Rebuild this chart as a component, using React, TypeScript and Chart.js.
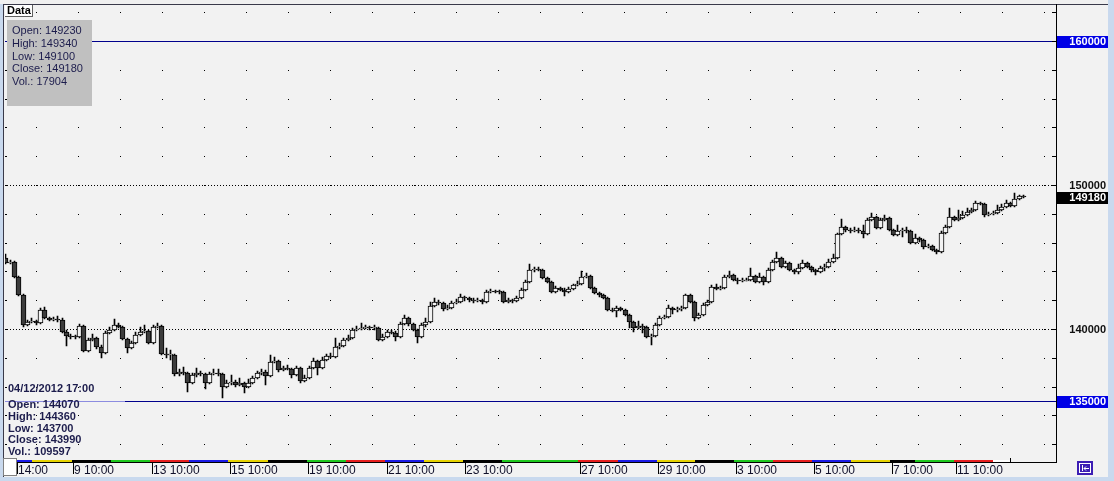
import React, { useEffect, useRef } from "react";
import { Chart, registerables } from "chart.js";

Chart.register(...registerables);

// ---------------- data ----------------
const opens = [
  144930, 144580, 144650, 143610, 142360, 140280, 140490, 140560, 140420, 141320,
  140760, 140630, 140690, 140630, 139790, 139510, 139440, 139420, 140210, 138470,
  139240, 139380, 138750, 138330, 139720, 139930, 140280, 140140, 139310, 138680,
  139030, 139580, 139790, 139860, 139030, 140140, 140180, 138260, 138190, 138220,
  136870, 137010, 136940, 136250, 136810, 136940, 136870, 136250, 136870, 136940,
  136900, 135970, 136250, 136320, 136110, 136250, 135970, 136250, 136600, 136940,
  137010, 136740, 137710, 137780, 137150, 137290, 137220, 136810, 137290, 136390,
  136600, 137290, 137780, 137290, 137850, 138130, 138060, 138750, 138820, 139240,
  139380, 139930, 140000, 140070, 140140, 140070, 140100, 139240, 139440, 139790,
  139720, 139440, 140350, 140760, 140350, 139930, 139440, 140280, 140490, 141600,
  141880, 141810, 141390, 141460, 141810, 141880, 142220, 142150, 142010, 141940,
  142010, 141880, 142570, 142640, 142600, 142570, 141880, 142010, 141940, 142150,
  142710, 143260, 144100, 144170, 144100, 143540, 143260, 142570, 142850, 142710,
  142570, 142780, 143060, 143130, 143610, 143680, 142850, 142500, 142360, 142150,
  141320, 141250, 141460, 141320, 140970, 140490, 140070, 140210, 140140, 139440,
  139510, 140280, 140760, 140800, 141460, 141320, 141390, 141460, 142360, 141880,
  140760, 140970, 141670, 141880, 142920, 142780, 142820, 143610, 143750, 143400,
  143330, 143360, 143400, 143680, 143260, 143610, 143260, 144100, 144650, 144930,
  144310, 144580, 144100, 143960, 144240, 144580, 144310, 144100, 143960, 144240,
  144310, 144650, 144930, 146600, 147080, 146870, 146800, 146870, 146800, 146600,
  147570, 147780, 147010, 147570, 147710, 146870, 146530, 146800, 146870, 146800,
  145970, 146320, 146180, 145690, 145760, 145490, 145350, 146670, 147080, 147780,
  147570, 147710, 147920, 148120, 148260, 148750, 148680, 147920, 147990, 148030,
  148260, 148470, 148750, 148540, 149030, 149230,
];

const highs = [
  145210, 144790, 144720, 143680, 142430, 140630, 140760, 140630, 141460, 141530,
  140830, 140830, 140900, 140760, 139930, 139650, 139580, 140350, 140280, 139380,
  139650, 139450, 138890, 139860, 140140, 140700, 140420, 140210, 139380, 139170,
  139790, 140140, 140280, 139930, 140280, 140420, 140250, 138680, 138540, 138290,
  137220, 137360, 137010, 136940, 137290, 137080, 136940, 137010, 137220, 137220,
  136970, 136460, 136810, 136460, 136600, 136320, 136530, 136740, 137080, 137220,
  137150, 138190, 138060, 137850, 137430, 137500, 137290, 137430, 137360, 136810,
  137430, 137990, 137850, 138060, 138260, 138330, 139380, 139030, 139380, 139580,
  140070, 140210, 140420, 140280, 140210, 140280, 140170, 139650, 139930, 139930,
  139860, 140490, 140970, 140830, 140420, 140000, 140420, 140760, 141880, 142150,
  142010, 141880, 141670, 141950, 142080, 142430, 142290, 142220, 142150, 142150,
  142080, 142710, 142780, 142710, 142710, 142640, 142150, 142080, 142290, 142850,
  143400, 144510, 144310, 144310, 144170, 143610, 143330, 142990, 142920, 142850,
  142920, 143130, 143330, 144030, 143890, 143750, 142920, 142570, 142430, 142220,
  141460, 141600, 141530, 141390, 141040, 140560, 140560, 140350, 140210, 139650,
  140420, 140900, 140970, 141670, 141530, 141530, 141600, 142430, 142430, 141950,
  141110, 141810, 142010, 143060, 143130, 142990, 143750, 144030, 143820, 143540,
  143540, 143540, 144240, 143750, 143890, 143680, 144240, 144790, 145350, 145000,
  144720, 144650, 144170, 144510, 144790, 144650, 144380, 144170, 144380, 144510,
  144860, 145210, 146670, 147640, 147150, 147010, 147080, 147010, 147220, 147710,
  148060, 147850, 147710, 147920, 147780, 146940, 147220, 147010, 147080, 146870,
  146600, 146390, 146250, 145900, 145830, 145560, 146800, 147220, 148400, 147850,
  148260, 148190, 148400, 148400, 148890, 148820, 148750, 148120, 148190, 148610,
  148680, 148960, 148820, 149450, 149310, 149340,
];

const lows = [
  144510, 144510, 143540, 142290, 140140, 140210, 140420, 140280, 140350, 140690,
  140560, 140560, 140490, 139720, 138820, 139310, 139310, 139380, 138400, 138400,
  139170, 138610, 137990, 138260, 139650, 139860, 140070, 139240, 138330, 138610,
  138960, 139510, 139720, 138960, 138960, 140070, 138190, 137990, 137850, 136740,
  136740, 136810, 135630, 136180, 136670, 136740, 135830, 136180, 136810, 136740,
  135210, 135900, 136110, 135970, 136040, 135560, 135900, 136180, 136530, 136810,
  136110, 136670, 137640, 137010, 137080, 137150, 136600, 136740, 136250, 136320,
  136530, 137220, 136810, 137220, 137780, 137990, 137990, 138610, 138750, 139170,
  139310, 139860, 139930, 140000, 139930, 139930, 139170, 139170, 139380, 139650,
  139170, 139380, 140280, 140210, 139860, 139030, 139380, 140140, 140420, 141530,
  141670, 141250, 141320, 141390, 141740, 141810, 141950, 141880, 141810, 141880,
  141740, 141810, 142500, 142500, 142430, 141810, 141810, 141810, 141880, 142080,
  142640, 143190, 143960, 144030, 143470, 143190, 142500, 142500, 142640, 142290,
  142500, 142710, 142990, 143060, 143540, 142780, 142430, 142220, 142080, 141250,
  141180, 140830, 141250, 140900, 140070, 139790, 140000, 139720, 139380, 138890,
  139440, 140210, 140690, 140760, 141040, 141180, 141250, 141390, 141810, 140560,
  140690, 140900, 141600, 141810, 142710, 142710, 142780, 143540, 143330, 143130,
  143260, 143330, 143330, 143190, 143190, 143060, 143190, 144030, 144580, 144240,
  144240, 144030, 143820, 143820, 144170, 144240, 143960, 143750, 143890, 144030,
  144240, 144580, 144860, 146530, 146730, 146670, 146730, 146670, 146320, 146530,
  147500, 146940, 146940, 147500, 146800, 146460, 146460, 146390, 146670, 145900,
  145900, 146040, 145560, 145630, 145420, 145210, 145280, 146600, 147010, 147500,
  147500, 147640, 147850, 148060, 148190, 148610, 147780, 147850, 147920, 147990,
  148190, 148400, 148470, 148470, 148960, 149100,
];

const closes = [
  144580, 144650, 143610, 142360, 140280, 140490, 140560, 140420, 141320, 140760,
  140630, 140690, 140630, 139790, 139510, 139440, 139420, 140210, 138470, 139240,
  139380, 138750, 138330, 139720, 139930, 140280, 140140, 139310, 138680, 139030,
  139580, 139790, 139860, 139030, 140140, 140180, 138260, 138190, 138220, 136870,
  137010, 136940, 136250, 136810, 136940, 136870, 136250, 136870, 136940, 136900,
  135970, 136250, 136320, 136110, 136250, 135970, 136250, 136600, 136940, 137010,
  136740, 137710, 137780, 137150, 137290, 137220, 136810, 137290, 136390, 136600,
  137290, 137780, 137290, 137850, 138130, 138060, 138750, 138820, 139240, 139380,
  139930, 140000, 140070, 140140, 140070, 140100, 139240, 139440, 139790, 139720,
  139440, 140350, 140760, 140350, 139930, 139440, 140280, 140490, 141600, 141880,
  141810, 141390, 141460, 141810, 141880, 142220, 142150, 142010, 141940, 142010,
  141880, 142570, 142640, 142600, 142570, 141880, 142010, 141940, 142150, 142710,
  143260, 144100, 144170, 144100, 143540, 143260, 142570, 142850, 142710, 142570,
  142780, 143060, 143130, 143610, 143680, 142850, 142500, 142360, 142150, 141320,
  141250, 141460, 141320, 140970, 140490, 140070, 140210, 140140, 139440, 139510,
  140280, 140760, 140800, 141460, 141320, 141390, 141460, 142360, 141880, 140760,
  140970, 141670, 141880, 142920, 142780, 142820, 143610, 143750, 143400, 143330,
  143360, 143400, 143680, 143260, 143610, 143260, 144100, 144650, 144930, 144310,
  144580, 144100, 143960, 144240, 144580, 144310, 144100, 143960, 144240, 144310,
  144650, 144930, 146600, 147080, 146870, 146800, 146870, 146800, 146600, 147570,
  147780, 147010, 147570, 147710, 146870, 146530, 146800, 146870, 146800, 145970,
  146320, 146180, 145690, 145760, 145490, 145350, 146670, 147080, 147780, 147570,
  147710, 147920, 148120, 148260, 148750, 148680, 147920, 147990, 148030, 148260,
  148470, 148750, 148540, 149030, 149230, 149180,
];

// time axis: labels and the candle index where each one sits
const timeLabels = ["14:00", "9 10:00", "13 10:00", "15 10:00", "19 10:00", "21 10:00", "23 10:00", "27 10:00", "29 10:00", "3 10:00", "5 10:00", "7 10:00", "11 10:00"];
const timeLabelIndex = [2.5, 15.5, 33.7, 51.7, 69.7, 88, 106, 132.6, 150.6, 168.6, 186.6, 204.6, 219.4];

// day strip under the chart (boundaries in candle index units)
const dayBounds = [2.5, 6, 15.3, 24.3, 33.3, 42.3, 51.3, 60.5, 69.5, 78.5, 87.5, 96.5, 105.5, 114.5, 132.1, 141.3, 150.3, 159.1, 168.1, 177.1, 186.1, 195.2, 204.2, 209.9, 218.9, 227.9, 231.9];
const dayColors = ["#1a1ae6", "#e6d200", "#000000", "#1ec81e", "#e61e1e", "#1a1ae6", "#e6d200", "#000000", "#1ec81e", "#e61e1e", "#1a1ae6", "#e6d200", "#000000", "#1ec81e", "#e61e1e", "#1a1ae6", "#e6d200", "#000000", "#1ec81e", "#e61e1e", "#1a1ae6", "#e6d200", "#000000", "#1ec81e", "#e61e1e", "#ffffff"];

// price levels
const boxedLevels = [160000, 135000];
const dottedLevels = [150000, 140000];
const plainLabelLevels = [150000, 140000];

const infoTopLines = ["Open: 149230", "High: 149340", "Low: 149100", "Close: 149180", "Vol.: 17904"];
const infoBottomTitle = "04/12/2012 17:00";
const infoBottomLines = ["Open: 144070", "High: 144360", "Low: 143700", "Close: 143990", "Vol.: 109597"];

// ---------------- layout ----------------
const W = 1114;
const H = 481;
const BG = "#f2f2f2";
const NAVY = "#1c1c4c";
const FONT = '"Liberation Sans", Arial, sans-serif';
const X_MIN = -0.23;
const X_MAX = 242.5;
const Y_MIN = 131000;
const Y_MAX = 162500;
const GRID_COL_START = 6.93;
const GRID_COL_STEP = 9.7;

const overlayPlugin = {
  id: "overlay",
  beforeDraw(chart: any) {
    const ctx = chart.ctx;
    ctx.save();
    ctx.fillStyle = "#c9d9ee";
    ctx.fillRect(0, 0, W, H);
    ctx.fillStyle = "#f0f0f0";
    ctx.fillRect(0, 0, 1108, 4);
    ctx.fillStyle = BG;
    ctx.fillRect(3, 4, 1105, 473);
    ctx.fillStyle = "#3a3a4a";
    ctx.fillRect(3, 4, 1105, 1);
    ctx.fillRect(3, 4, 1, 473);
    ctx.restore();
  },
  beforeDatasetsDraw(chart: any) {
    const { ctx, chartArea: a, scales } = chart;
    const xs = scales.x;
    const ys = scales.y;

    // snap candle elements to whole pixels so they render crisp
    const bodyMeta = chart.getDatasetMeta(0);
    const wickMeta = chart.getDatasetMeta(1);
    bodyMeta.data.forEach((el: any, i: number) => {
      el.x = Math.floor(el.x) + 0.5;
      el.y = Math.round(el.y);
      el.base = Math.round(el.base);
      const w = wickMeta.data[i];
      if (w) {
        w.x = el.x;
        w.y = Math.round(w.y);
        w.base = Math.round(w.base);
      }
    });

    ctx.save();
    ctx.fillStyle = "#000";
    for (let v = 132000; v <= 162000; v += 2000) {
      const py = Math.round(ys.getPixelForValue(v));
      ctx.fillRect(a.left, py, 2, 1);
      for (let k = 0; k < 200; k++) {
        const px = Math.round(xs.getPixelForValue(GRID_COL_START + k * GRID_COL_STEP));
        if (px > a.right - 4) break;
        ctx.fillRect(px, py, 1, 1);
      }
    }
    for (const v of dottedLevels) {
      const py = Math.round(ys.getPixelForValue(v));
      for (let px = Math.round(a.left) + 2; px < a.right; px += 3) ctx.fillRect(px, py, 1, 1);
    }
    for (const v of boxedLevels) {
      const py = Math.round(ys.getPixelForValue(v));
      ctx.fillStyle = "#00008c";
      ctx.fillRect(a.left, py, a.right - a.left, 1);
    }
    ctx.restore();
  },
  afterDraw(chart: any) {
    const { ctx, chartArea: a, scales } = chart;
    const xs = scales.x;
    const ys = scales.y;
    ctx.save();
    ctx.textBaseline = "middle";

    const py135 = Math.round(ys.getPixelForValue(135000));
    ctx.fillStyle = "#8c8ce0";
    ctx.fillRect(a.left, py135, 120, 1);

    // right axis
    ctx.fillStyle = "#000";
    ctx.fillRect(1056, 4, 1, 459);
    for (let v = 132000; v <= 162000; v += 2000) {
      const py = Math.round(ys.getPixelForValue(v));
      ctx.fillRect(1052, py, 4, 1);
    }
    ctx.font = "bold 11px " + FONT;
    ctx.textAlign = "right";
    for (const v of boxedLevels) {
      const py = Math.round(ys.getPixelForValue(v));
      ctx.fillStyle = "#0000e6";
      ctx.fillRect(1057, py - 5, 51, 12);
      ctx.fillStyle = "#fff";
      ctx.fillText(String(v), 1106, py + 1);
    }
    for (const v of plainLabelLevels) {
      const py = Math.round(ys.getPixelForValue(v));
      ctx.fillStyle = "#101010";
      ctx.fillText(String(v), 1106, py + 1);
    }
    const last = closes[closes.length - 1];
    const pyl = Math.round(ys.getPixelForValue(last));
    ctx.fillStyle = "#000";
    ctx.fillRect(1057, pyl - 5, 51, 12);
    ctx.fillStyle = "#fff";
    ctx.fillText(String(last), 1106, pyl + 1);

    // day strip
    for (let i = 0; i < dayColors.length; i++) {
      const x0 = Math.round(xs.getPixelForValue(dayBounds[i]));
      const x1 = Math.round(xs.getPixelForValue(dayBounds[i + 1]));
      ctx.fillStyle = dayColors[i];
      ctx.fillRect(x0, 460, x1 - x0, 2);
    }
    const s0 = Math.round(xs.getPixelForValue(dayBounds[0]));
    const s1 = Math.round(xs.getPixelForValue(dayBounds[dayBounds.length - 1]));
    ctx.fillStyle = "#000";
    ctx.fillRect(s0, 462, s1 - s0, 1);
    ctx.fillRect(s1, 458, 1, 5);
    ctx.fillRect(s1, 462, 1056 - s1, 1);

    // time labels
    ctx.font = "12px " + FONT;
    ctx.textAlign = "left";
    ctx.textBaseline = "alphabetic";
    for (let i = 0; i < timeLabels.length; i++) {
      const px = Math.round(xs.getPixelForValue(timeLabelIndex[i]));
      ctx.fillStyle = "#000";
      ctx.fillRect(px, 462, 1, 12);
      ctx.fillStyle = "#10102a";
      ctx.fillText(timeLabels[i], px + 1, 474);
    }

    // bottom-left small white box
    ctx.fillStyle = "#fff";
    ctx.fillRect(3, 458, 14, 18);
    ctx.strokeStyle = "#808080";
    ctx.lineWidth = 1;
    ctx.strokeRect(3.5, 458.5, 13, 17);

    // corner icon
    ctx.fillStyle = "#3c1eb4";
    ctx.fillRect(1077, 461, 16, 14);
    ctx.strokeStyle = "#fff";
    ctx.strokeRect(1079.5, 463.5, 11, 9);
    ctx.beginPath();
    ctx.moveTo(1082.5, 465);
    ctx.lineTo(1082.5, 471);
    ctx.moveTo(1084, 468.5);
    ctx.lineTo(1089, 468.5);
    ctx.moveTo(1086, 466.5);
    ctx.lineTo(1084, 468.5);
    ctx.lineTo(1086, 470.5);
    ctx.stroke();

    // "Data" tab
    ctx.fillStyle = "#fff";
    ctx.fillRect(5, 5, 28, 12);
    ctx.fillStyle = "#606060";
    ctx.fillRect(32, 5, 1, 12);
    ctx.fillRect(5, 16, 28, 1);
    ctx.fillStyle = "#000";
    ctx.font = "bold 11px " + FONT;
    ctx.textBaseline = "middle";
    ctx.fillText("Data", 7, 11);

    // top info box
    ctx.fillStyle = "#c0c0c0";
    ctx.fillRect(7, 20, 85, 86);
    ctx.fillStyle = NAVY;
    ctx.font = "11px " + FONT;
    infoTopLines.forEach((t, i) => ctx.fillText(t, 12, 31 + i * 12.8));

    // bottom info
    ctx.font = "bold 11px " + FONT;
    ctx.fillText(infoBottomTitle, 8, 389);
    infoBottomLines.forEach((t, i) => ctx.fillText(t, 8, 405 + i * 11.8));

    ctx.restore();
  },
};

export default function App() {
  const ref = useRef<HTMLCanvasElement | null>(null);

  useEffect(() => {
    if (!ref.current) return;
    const idx = closes.map((_, i) => i);
    const up = closes.map((c, i) => c >= opens[i]);
    const chart = new Chart(ref.current, {
      type: "bar",
      data: {
        datasets: [
          {
            label: "body",
            data: idx.map((i) => ({ x: i, y: [opens[i], closes[i]] })) as any,
            backgroundColor: up.map((u) => (u ? BG : "#3c3c3c")),
            borderColor: "#000",
            borderWidth: 1,
            borderSkipped: false,
            barThickness: 5,
            minBarLength: 1,
            grouped: false,
            order: 0,
          } as any,
          {
            label: "wick",
            data: idx.map((i) => ({ x: i, y: [lows[i], highs[i]] })) as any,
            backgroundColor: "#000",
            borderWidth: 0,
            barThickness: 1,
            grouped: false,
            order: 1,
          } as any,
        ],
      },
      options: {
        animation: false,
        responsive: false,
        devicePixelRatio: 1,
        layout: { padding: { left: 5, right: W - 1056, top: 5, bottom: H - 458.6 } },
        plugins: { legend: { display: false }, tooltip: { enabled: false }, title: { display: false } },
        scales: {
          x: { type: "linear", min: X_MIN, max: X_MAX, display: false, offset: false },
          y: { type: "linear", min: Y_MIN, max: Y_MAX, display: false },
        },
      } as any,
      plugins: [overlayPlugin],
    });
    return () => chart.destroy();
  }, []);

  return (
    <div style={{ position: "absolute", left: 0, top: 0, width: W, height: H }}>
      <canvas ref={ref} width={W} height={H} style={{ display: "block", width: W, height: H }} />
    </div>
  );
}
